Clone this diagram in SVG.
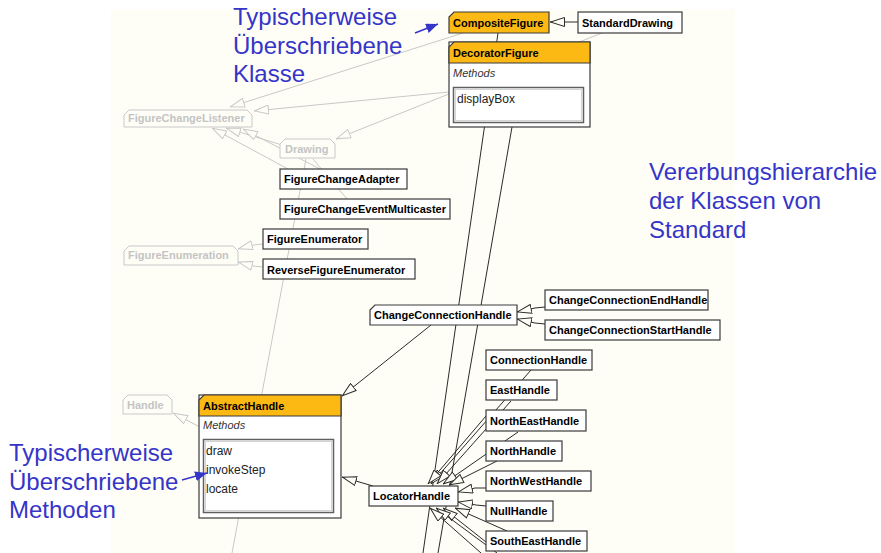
<svg xmlns="http://www.w3.org/2000/svg" width="881" height="553" viewBox="0 0 881 553">
  <style>
    .box { fill: #ffffff; stroke: #3a3a3a; stroke-width: 1.2; }
    .hdr { fill: #fcb813; stroke: #3a3a3a; stroke-width: 1.2; }
    .iface { fill: #fefef6; stroke: #c8c8c8; stroke-width: 1; }
    .lbl { font-family: "Liberation Sans", Arial, sans-serif; font-size: 11px; font-weight: bold; fill: #000; }
    .glbl { font-family: "Liberation Sans", Arial, sans-serif; font-size: 11px; font-weight: bold; fill: #c4c4c4; }
    .sec { font-family: "Liberation Sans", Arial, sans-serif; font-size: 11px; font-style: italic; fill: #333; }
    .meth { font-family: "Liberation Sans", Arial, sans-serif; font-size: 12px; fill: #222; }
    .list { fill: #ffffff; stroke: #606060; stroke-width: 1.5; }
    .listin { fill: none; stroke: #d4d4d4; stroke-width: 1; }
    .note { font-family: "Liberation Sans", Arial, sans-serif; font-size: 24px; fill: #3535c8; }
    .edge { fill: none; stroke: #2a2a2a; stroke-width: 1; }
    .gedge { fill: none; stroke: #c8c8c8; stroke-width: 1; }
    .pointer { fill: none; stroke: #3535c8; stroke-width: 1.5; }
  </style>
  <defs>
    <marker id="gen" viewBox="0 0 15 10" refX="15" refY="5" markerWidth="15" markerHeight="10" markerUnits="userSpaceOnUse" orient="auto">
      <path d="M0.5,0.5 L14.5,5 L0.5,9.5 Z" fill="#fefef6" stroke="#2a2a2a" stroke-width="1"/>
    </marker>
    <marker id="ggen" viewBox="0 0 15 10" refX="15" refY="5" markerWidth="15" markerHeight="10" markerUnits="userSpaceOnUse" orient="auto">
      <path d="M0.5,0.5 L14.5,5 L0.5,9.5 Z" fill="#fefef6" stroke="#c8c8c8" stroke-width="1"/>
    </marker>
    <marker id="blue" viewBox="0 0 12 10" refX="12" refY="5" markerWidth="12" markerHeight="10" markerUnits="userSpaceOnUse" orient="auto">
      <path d="M0,0 L12,5 L0,10 Z" fill="#3535c8"/>
    </marker>
  </defs>

  <!-- canvas -->
  <rect x="0" y="0" width="881" height="553" fill="#ffffff"/>
  <rect x="111" y="9" width="624" height="544" fill="#fefef6"/>

  <!-- connectors -->
  <g id="connectors">
    <!-- interface realisations (faded) -->
    <path class="gedge" d="M463,33 L230,107" marker-end="url(#ggen)"/>
    <path class="gedge" d="M449,92 L254,111" marker-end="url(#ggen)"/>
    <path class="gedge" d="M602,33 L336,139" marker-end="url(#ggen)"/>
    <path class="gedge" d="M282,145 L226,128" marker-end="url(#ggen)"/>
    <path class="gedge" d="M288,169 L212,128" marker-end="url(#ggen)"/>
    <path class="gedge" d="M320,169 L243,129" marker-end="url(#ggen)"/>
    <path class="gedge" d="M347,199 L313,159"/>
    <path class="gedge" d="M306,159 L232,553"/>
    <path class="gedge" d="M263,244 L253,245 L238,249" marker-end="url(#ggen)"/>
    <path class="gedge" d="M263,267 L253,266 L238,262" marker-end="url(#ggen)"/>
    <path class="gedge" d="M200,427 L173,413" marker-end="url(#ggen)"/>

    <!-- class inheritance -->
    <path class="edge" d="M578,22 L550,22" marker-end="url(#gen)"/>
    <path class="edge" d="M498,33 L423,553"/>
    <path class="edge" d="M512,127 L438,553"/>
    <path class="edge" d="M431,325 L342,396" marker-end="url(#gen)"/>
    <path class="edge" d="M545,307 L535,308 L517,312" marker-end="url(#gen)"/>
    <path class="edge" d="M545,324 L535,323 L517,319" marker-end="url(#gen)"/>
    <path class="edge" d="M373,486 L342,477" marker-end="url(#gen)"/>

    <!-- handles derived from LocatorHandle -->
    <path class="edge" d="M531,370 L431,484" marker-end="url(#gen)"/>
    <path class="edge" d="M511,401 L437,484" marker-end="url(#gen)"/>
    <path class="edge" d="M486,416 L428,484" marker-end="url(#gen)"/>
    <path class="edge" d="M518,432 L443,484" marker-end="url(#gen)"/>
    <path class="edge" d="M497,461 L449,485" marker-end="url(#gen)"/>
    <path class="edge" d="M486,488 L475,488 L458,492" marker-end="url(#gen)"/>
    <path class="edge" d="M486,506 L476,505 L458,502" marker-end="url(#gen)"/>
    <path class="edge" d="M507,531 L455,508" marker-end="url(#gen)"/>
    <path class="edge" d="M486,542 L443,508" marker-end="url(#gen)"/>
    <path class="edge" d="M497,553 L436,508" marker-end="url(#gen)"/>
    <path class="edge" d="M481,553 L430,508" marker-end="url(#gen)"/>
  </g>

  <!-- class nodes -->
  <g id="CompositeFigure">
    <path class="hdr" d="M454,12 L549,12 L549,33 L449,33 L449,17 Z"/>
    <text class="lbl" x="453" y="27">CompositeFigure</text>
  </g>
  <g id="StandardDrawing">
    <rect class="box" x="578" y="12" width="104" height="21"/>
    <text class="lbl" x="582" y="27">StandardDrawing</text>
  </g>
  <g id="DecoratorFigure">
    <rect class="box" x="449" y="42" width="141" height="85"/>
    <path class="hdr" d="M454,42 L590,42 L590,63 L449,63 L449,47 Z"/>
    <text class="lbl" x="453" y="57">DecoratorFigure</text>
    <text class="sec" x="453" y="77">Methods</text>
    <rect class="list" x="453.5" y="87.5" width="130" height="35"/>
    <rect class="listin" x="455.5" y="89.5" width="126" height="31"/>
    <text class="meth" x="457" y="103">displayBox</text>
  </g>
  <g id="FigureChangeListener">
    <path class="iface" d="M129,110 L247,110 L252,115 L252,127 L124,127 L124,115 Z"/>
    <text class="glbl" x="128" y="122">FigureChangeListener</text>
  </g>
  <g id="Drawing">
    <path class="iface" d="M285,139 L330,139 L335,144 L335,158 L280,158 L280,144 Z"/>
    <text class="glbl" x="285" y="153">Drawing</text>
  </g>
  <g id="FigureChangeAdapter">
    <rect class="box" x="280" y="169" width="127" height="20"/>
    <text class="lbl" x="284" y="183">FigureChangeAdapter</text>
  </g>
  <g id="FigureChangeEventMulticaster">
    <rect class="box" x="280" y="199" width="170" height="20"/>
    <text class="lbl" x="284" y="213">FigureChangeEventMulticaster</text>
  </g>
  <g id="FigureEnumerator">
    <rect class="box" x="263" y="229" width="105" height="20"/>
    <text class="lbl" x="267" y="243">FigureEnumerator</text>
  </g>
  <g id="FigureEnumeration">
    <path class="iface" d="M129,246 L233,246 L238,251 L238,265 L124,265 L124,251 Z"/>
    <text class="glbl" x="128" y="259">FigureEnumeration</text>
  </g>
  <g id="ReverseFigureEnumerator">
    <rect class="box" x="263" y="259" width="152" height="20"/>
    <text class="lbl" x="267" y="274">ReverseFigureEnumerator</text>
  </g>
  <g id="ChangeConnectionHandle">
    <path class="box" d="M375,305 L517,305 L517,325 L370,325 L370,310 Z"/>
    <text class="lbl" x="374" y="319">ChangeConnectionHandle</text>
  </g>
  <g id="ChangeConnectionEndHandle">
    <rect class="box" x="545" y="290" width="163" height="20"/>
    <text class="lbl" x="549" y="304">ChangeConnectionEndHandle</text>
  </g>
  <g id="ChangeConnectionStartHandle">
    <rect class="box" x="545" y="320" width="175" height="20"/>
    <text class="lbl" x="549" y="334">ChangeConnectionStartHandle</text>
  </g>
  <g id="ConnectionHandle">
    <rect class="box" x="486" y="350" width="106" height="20"/>
    <text class="lbl" x="490" y="364">ConnectionHandle</text>
  </g>
  <g id="EastHandle">
    <rect class="box" x="486" y="380" width="71" height="20"/>
    <text class="lbl" x="490" y="394">EastHandle</text>
  </g>
  <g id="NorthEastHandle">
    <rect class="box" x="486" y="410" width="100" height="21"/>
    <text class="lbl" x="490" y="425">NorthEastHandle</text>
  </g>
  <g id="NorthHandle">
    <rect class="box" x="486" y="441" width="76" height="20"/>
    <text class="lbl" x="490" y="455">NorthHandle</text>
  </g>
  <g id="NorthWestHandle">
    <rect class="box" x="486" y="471" width="105" height="20"/>
    <text class="lbl" x="490" y="485">NorthWestHandle</text>
  </g>
  <g id="NullHandle">
    <rect class="box" x="486" y="501" width="67" height="20"/>
    <text class="lbl" x="490" y="515">NullHandle</text>
  </g>
  <g id="SouthEastHandle">
    <rect class="box" x="486" y="531" width="101" height="20"/>
    <text class="lbl" x="490" y="545">SouthEastHandle</text>
  </g>
  <g id="Handle">
    <path class="iface" d="M128,395 L167,395 L172,400 L172,414 L123,414 L123,400 Z"/>
    <text class="glbl" x="127" y="409">Handle</text>
  </g>
  <g id="AbstractHandle">
    <rect class="box" x="199" y="395" width="142" height="123"/>
    <path class="hdr" d="M204,395 L341,395 L341,416 L199,416 L199,400 Z"/>
    <text class="lbl" x="203" y="410">AbstractHandle</text>
    <text class="sec" x="203" y="429">Methods</text>
    <rect class="list" x="203.5" y="439.5" width="130" height="73"/>
    <rect class="listin" x="205.5" y="441.5" width="126" height="69"/>
    <text class="meth" x="206" y="455">draw</text>
    <text class="meth" x="206" y="474">invokeStep</text>
    <text class="meth" x="206" y="493">locate</text>
  </g>
  <g id="LocatorHandle">
    <rect class="box" x="369" y="486" width="89" height="20"/>
    <text class="lbl" x="373" y="500">LocatorHandle</text>
  </g>

  <!-- annotations -->
  <g id="note-class">
    <text class="note" x="233" y="25">Typischerweise</text>
    <text class="note" x="233" y="54">Überschriebene</text>
    <text class="note" x="233" y="82">Klasse</text>
    <path class="pointer" d="M415,33 L438,24" marker-end="url(#blue)"/>
  </g>
  <g id="note-hierarchy">
    <text class="note" x="649" y="180">Vererbungshierarchie</text>
    <text class="note" x="649" y="209">der Klassen von</text>
    <text class="note" x="649" y="238">Standard</text>
  </g>
  <g id="note-methods">
    <text class="note" x="9" y="461">Typischerweise</text>
    <text class="note" x="9" y="490">Überschriebene</text>
    <text class="note" x="9" y="518">Methoden</text>
    <path class="pointer" d="M182,480 L207,473" marker-end="url(#blue)"/>
  </g>
</svg>
